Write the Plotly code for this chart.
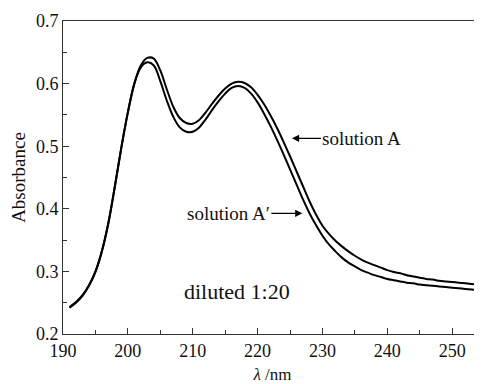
import plotly.graph_objects as go

wavelength = list(range(191, 256))

solution_A = [
    0.243, 0.251, 0.262, 0.278, 0.300, 0.333, 0.378, 0.436, 0.498, 0.554,
    0.600, 0.629, 0.641, 0.640, 0.621, 0.591, 0.563, 0.545, 0.537, 0.536,
    0.542, 0.554, 0.568, 0.581, 0.592, 0.600, 0.603, 0.601, 0.594, 0.582,
    0.567, 0.549, 0.529, 0.507, 0.484, 0.460, 0.436, 0.412, 0.391, 0.373,
    0.360, 0.349, 0.340, 0.332, 0.325, 0.319, 0.314, 0.310, 0.306, 0.302,
    0.299, 0.297, 0.294, 0.292, 0.290, 0.288, 0.287, 0.285, 0.284, 0.283,
    0.282, 0.281, 0.280, 0.279, 0.278,
]

solution_A_prime = [
    0.242, 0.250, 0.261, 0.277, 0.299, 0.332, 0.377, 0.436, 0.498, 0.554,
    0.600, 0.626, 0.634, 0.629, 0.604, 0.573, 0.547, 0.530, 0.523, 0.523,
    0.530, 0.543, 0.558, 0.572, 0.584, 0.593, 0.596, 0.593, 0.584, 0.570,
    0.552, 0.532, 0.510, 0.487, 0.463, 0.439, 0.415, 0.393, 0.374, 0.357,
    0.343, 0.332, 0.322, 0.314, 0.308, 0.302, 0.298, 0.294, 0.291, 0.288,
    0.286, 0.284, 0.282, 0.281, 0.279, 0.278, 0.277, 0.276, 0.275, 0.274,
    0.273, 0.272, 0.271, 0.270, 0.270,
]

x_ticks = [190, 200, 210, 220, 230, 240, 250]
y_ticks = [0.2, 0.3, 0.4, 0.5, 0.6, 0.7]

SERIF = "Liberation Serif, Times New Roman, serif"
AXC = "#333333"

fig = go.Figure()
fig.add_trace(go.Scatter(x=wavelength, y=solution_A, mode="lines",
                         line=dict(color="black", width=2, shape="spline"),
                         name="solution A", showlegend=False))
fig.add_trace(go.Scatter(x=wavelength, y=solution_A_prime, mode="lines",
                         line=dict(color="black", width=2, shape="spline"),
                         name="solution A'", showlegend=False))

fig.add_annotation(x=225.3, y=0.5126, xref="x", yref="y", text="solution A",
                   showarrow=True, ax=70, ay=0, arrowhead=2, arrowsize=1.1,
                   arrowwidth=1.3, arrowcolor="black", standoff=0,
                   font=dict(family=SERIF, size=19, color="#111"))
fig.add_annotation(x=226.9, y=0.3928, xref="x", yref="y", text="solution A\u2032",
                   showarrow=True, ax=-74, ay=0, arrowhead=2, arrowsize=1.1,
                   arrowwidth=1.3, arrowcolor="black", standoff=0,
                   font=dict(family=SERIF, size=19, color="#111"))
fig.add_annotation(x=216.8, y=0.268, xref="x", yref="y", text="diluted 1:20",
                   showarrow=False,
                   font=dict(family=SERIF, size=22, color="#111"))

fig.update_layout(
    width=474, height=376,
    margin=dict(l=55, r=0, t=13, b=50),
    paper_bgcolor="white", plot_bgcolor="white",
    font=dict(family=SERIF, size=15, color="#111"),
    xaxis=dict(range=[190, 254.6], tickvals=x_ticks, automargin=False,
               ticks="inside", ticklen=6, tickwidth=1, tickcolor=AXC,
               minor=dict(dtick=5, tick0=190, ticks="inside", ticklen=4, tickcolor=AXC),
               showline=True, linecolor=AXC, linewidth=1, mirror=True,
               showgrid=False, zeroline=False,
               title=dict(text="<i>\u03bb</i> /nm", standoff=8,
                          font=dict(family=SERIF, size=17)),
               tickfont=dict(family=SERIF, size=18)),
    yaxis=dict(range=[0.2, 0.7], tickvals=y_ticks, tickformat=".1f", automargin=False,
               ticks="inside", ticklen=6, tickwidth=1, tickcolor=AXC,
               minor=dict(dtick=0.05, tick0=0.2, ticks="inside", ticklen=4, tickcolor=AXC),
               showline=True, linecolor=AXC, linewidth=1,
               showgrid=False, zeroline=False,
               title=dict(text="Absorbance", standoff=6,
                          font=dict(family=SERIF, size=19)),
               tickfont=dict(family=SERIF, size=18)),
)

fig.write_html("out.html")
